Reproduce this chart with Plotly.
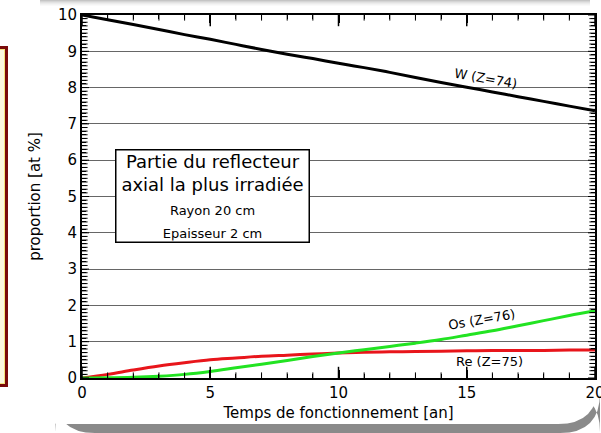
import plotly.graph_objects as go

years = [0, 1, 2, 3, 4, 5, 6, 7, 8, 9, 10, 11, 12, 13, 14, 15, 16, 17, 18, 19, 20]
w_vals = [10.0, 9.87, 9.74, 9.6, 9.46, 9.33, 9.19, 9.05, 8.92, 8.8, 8.67, 8.55, 8.42, 8.28, 8.14, 8.01, 7.88, 7.75, 7.62, 7.49, 7.36]
re_vals = [0.0, 0.1, 0.22, 0.33, 0.42, 0.5, 0.55, 0.6, 0.63, 0.66, 0.69, 0.71, 0.72, 0.73, 0.74, 0.75, 0.76, 0.76, 0.76, 0.77, 0.77]
os_vals = [0.0, 0.005, 0.02, 0.05, 0.1, 0.18, 0.28, 0.38, 0.48, 0.59, 0.69, 0.78, 0.87, 0.96, 1.06, 1.18, 1.3, 1.44, 1.58, 1.72, 1.85]

X_RANGE = [0, 20]
Y_RANGE = [0, 10]
FONT = "DejaVu Sans"

fig = go.Figure()
fig.add_trace(go.Scatter(x=years, y=re_vals, mode="lines", line=dict(color="#e8151b", width=3, shape="spline"), name="Re"))
fig.add_trace(go.Scatter(x=years, y=os_vals, mode="lines", line=dict(color="#22e322", width=3, shape="spline"), name="Os"))
fig.add_trace(go.Scatter(x=years, y=w_vals, mode="lines", line=dict(color="#000000", width=3, shape="spline"), name="W"))

# inside tick marks on all four sides (outer half of each marker is clipped by the plot area)
x_minor = [v for v in range(X_RANGE[0], X_RANGE[1] + 1) if v % 5 != 0]
x_major = [v for v in range(X_RANGE[0], X_RANGE[1] + 1) if v % 5 == 0]
y_minor = [k / 10 for k in range(Y_RANGE[0] * 10, Y_RANGE[1] * 10 + 1) if k % 10 != 0]
y_major = list(range(Y_RANGE[0], Y_RANGE[1] + 1))

def tick_trace(xs, ys, symbol, size, width):
    return go.Scatter(x=xs, y=ys, mode="markers", hoverinfo="skip", showlegend=False,
                      marker=dict(symbol=symbol, size=size, color="black",
                                  line=dict(color="black", width=width)))

for yedge in Y_RANGE:
    fig.add_trace(tick_trace(x_minor, [yedge] * len(x_minor), "line-ns", 8, 1))
    fig.add_trace(tick_trace(x_major, [yedge] * len(x_major), "line-ns", 16, 1.5))
for xedge in X_RANGE:
    fig.add_trace(tick_trace([xedge] * len(y_minor), y_minor, "line-ew", 8, 1))
    fig.add_trace(tick_trace([xedge] * len(y_major), y_major, "line-ew", 10, 1))

W_PX, H_PX = 601, 433
L, R, T, B = 82, 6, 15, 55
pw, ph = W_PX - L - R, H_PX - T - B

def px(x):
    return (x - L) / pw

def py(y):
    return (H_PX - B - y) / ph

def rounded(x0, y0, x1, y1, r):
    return (f"M {px(x0 + r)},{py(y0)} L {px(x1 - r)},{py(y0)} "
            f"Q {px(x1)},{py(y0)} {px(x1)},{py(y0 + r)} L {px(x1)},{py(y1 - r)} "
            f"Q {px(x1)},{py(y1)} {px(x1 - r)},{py(y1)} L {px(x0 + r)},{py(y1)} "
            f"Q {px(x0)},{py(y1)} {px(x0)},{py(y1 - r)} L {px(x0)},{py(y0 + r)} "
            f"Q {px(x0)},{py(y0)} {px(x0 + r)},{py(y0)} Z")

def sh(**kw):
    d = dict(xref="paper", yref="paper", layer="below", opacity=1, line=dict(width=0))
    d.update(kw)
    return d

shapes = []
for i, op in enumerate([0.55, 0.4, 0.28, 0.18, 0.1, 0.05]):
    shapes.append(sh(type="rect", x0=px(40), x1=px(590), y0=py(i), y1=py(i + 1),
                     fillcolor=f"rgba(150,150,150,{op})"))
shapes.append(sh(type="path", path=rounded(55, 392, 600, 433, 40), fillcolor="#8a8a8a"))
shapes.append(sh(type="path", path=rounded(22, 300, 598, 424, 40), fillcolor="#ffffff"))
shapes.append(sh(type="rect", x0=px(-10), x1=px(8), y0=py(387), y1=py(46), fillcolor="#7a0a0a"))
shapes.append(sh(type="rect", x0=px(-10), x1=px(5), y0=py(384), y1=py(49), fillcolor="#f3e27a"))
shapes.append(sh(type="rect", x0=px(-10), x1=px(4), y0=py(383), y1=py(50), fillcolor="#fbf7df"))

annotations = [
    dict(x=15.75, y=8.25, text="W (Z=74)", showarrow=False, textangle=10,
         font=dict(family=FONT, size=13, color="black")),
    dict(x=15.6, y=1.6, text="Os (Z=76)", showarrow=False, textangle=-10,
         font=dict(family=FONT, size=13, color="black")),
    dict(x=15.9, y=0.45, text="Re (Z=75)", showarrow=False,
         font=dict(family=FONT, size=13, color="black")),
    dict(x=5.07, y=5.02, showarrow=False, width=190, height=89,
         text="Partie du reflecteur<br>axial la plus irradiée<br>"
              "<span style='font-size:13px'>Rayon 20 cm</span><br>"
              "<span style='font-size:13px'>Epaisseur 2 cm</span>",
         bgcolor="white", bordercolor="black", borderwidth=1.5, borderpad=1,
         font=dict(family=FONT, size=18, color="black")),
]

fig.update_layout(
    template="simple_white",
    width=W_PX, height=H_PX,
    margin=dict(l=L, r=R, t=T, b=B),
    paper_bgcolor="white", plot_bgcolor="white",
    showlegend=False,
    shapes=shapes,
    annotations=annotations,
    font=dict(family=FONT, color="black"),
    xaxis=dict(range=X_RANGE, dtick=5,
               ticks="inside", ticklen=8, tickwidth=1.5, tickcolor="black",
               minor=dict(dtick=1, ticks="inside", ticklen=4, tickwidth=1, tickcolor="black"),
               showline=True, linecolor="black", linewidth=2, mirror="allticks",
               showgrid=False, zeroline=False, automargin=False, ticklabeloverflow="allow",
               tickfont=dict(size=15, family=FONT),
               title=dict(text="Temps de fonctionnement [an]", font=dict(size=15, family=FONT), standoff=6)),
    yaxis=dict(range=Y_RANGE, dtick=1,
               ticks="inside", ticklen=5, tickwidth=1, tickcolor="black",
               minor=dict(dtick=0.1, ticks="inside", ticklen=4, tickwidth=1, tickcolor="black"),
               showline=True, linecolor="black", linewidth=2, mirror="allticks",
               showgrid=True, gridcolor="#666666", gridwidth=1, zeroline=False, automargin=False,
               tickfont=dict(size=15, family=FONT),
               title=dict(text="proportion [at %]", font=dict(size=15, family=FONT), standoff=14)),
)

fig.write_html("out.html")
